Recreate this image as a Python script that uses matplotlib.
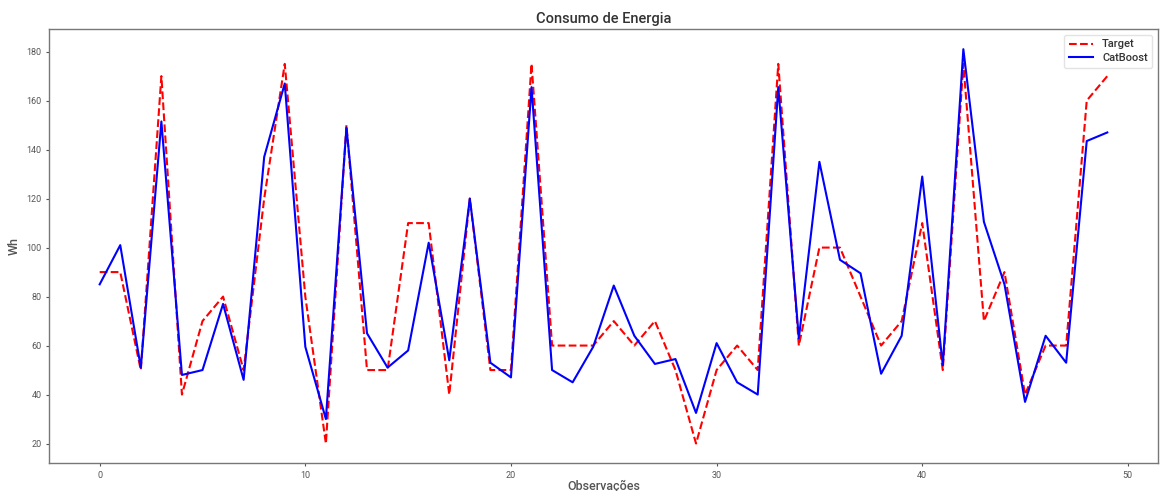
import matplotlib
matplotlib.use("Agg")
import matplotlib.pyplot as plt

target = [90, 90, 50, 170, 40, 70, 80, 50, 120, 175,
          80, 20, 150, 50, 50, 110, 110, 40, 120, 50,
          50, 175, 60, 60, 60, 70, 60, 70, 50, 20,
          50, 60, 50, 175, 60, 100, 100, 80, 60, 70,
          110, 50, 175, 70, 90, 40, 60, 60, 160, 170]
catboost = [85, 101, 51, 151.5, 48, 50, 77, 46, 137, 167,
            59.5, 30, 149, 65, 51, 58, 102, 54, 120, 53,
            47, 165.5, 50, 45, 59.5, 84.5, 64, 52.5, 54.5, 32.5,
            61, 45, 40, 165.5, 63, 135, 95, 89.5, 48.5, 64,
            129, 52, 181, 110.5, 85, 37, 64, 53, 143.5, 147]
obs = list(range(len(target)))

plt.rcParams['font.family'] = ['Roboto', 'DejaVu Sans']

fig = plt.figure(figsize=(11.6, 4.91), dpi=100)
ax = fig.add_axes([0.0425, 0.0565, 0.9555, 0.8835])

ax.plot(obs, target, 'r--', lw=1.5, label='Target')
ax.plot(obs, catboost, 'b-', lw=1.5, label='CatBoost')

ax.set_title('Consumo de Energia', fontsize=10.5, color='#333333', pad=5,
             fontweight='medium')
ax.set_xlabel('Observações', fontsize=9, color='#555555', labelpad=0,
              fontweight='medium')
ax.set_ylabel('Wh', fontsize=9, color='#555555', labelpad=4,
              fontweight='medium')

for s in ax.spines.values():
    s.set_color('#777777')
    s.set_linewidth(1.0)
ax.tick_params(axis='both', labelsize=6.5, colors='#555555', length=2.5, width=0.8, pad=3)

leg = ax.legend(loc='upper right', fontsize=8, frameon=True, fancybox=True,
                edgecolor='#dddddd', handlelength=2.2, borderpad=0.4,
                labelspacing=0.35, prop={'size': 8, 'weight': 'medium'})
for t in leg.get_texts():
    t.set_color('#333333')

fig.savefig('out.png', dpi=100)
